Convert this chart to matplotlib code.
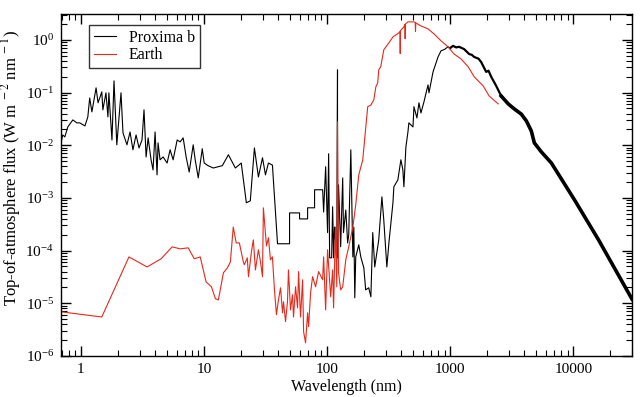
import numpy as np
import matplotlib
matplotlib.use("Agg")
import matplotlib.pyplot as plt
from matplotlib.ticker import LogLocator, NullFormatter, FuncFormatter

plt.rcParams['font.family'] = ['Liberation Serif', 'DejaVu Serif']
plt.rcParams['mathtext.fontset'] = 'stix'

# ---- data (wavelength in nm, flux in W m^-2 nm^-1) ----
proxima_wl = [0.69, 0.713, 0.741, 0.784, 0.861, 0.928, 0.98, 1.08, 1.14, 1.18, 1.23, 1.33, 1.38,
              1.48, 1.51, 1.60, 1.66, 1.69, 1.79, 1.86, 1.96, 2.12, 2.20, 2.37, 2.51, 2.65, 2.81,
              2.97, 3.14, 3.26, 3.39, 3.52, 3.72, 3.86, 4.01, 4.16, 4.24, 4.40, 4.66, 5.02, 5.31,
              5.62, 6.06, 6.41, 6.78, 7.17, 7.59, 8.18, 8.49, 8.99, 9.69, 10.05, 10.8, 11.9, 14.1,
              15.8, 18.0, 20.1, 22.1, 23.8, 25.7, 27.7, 29.9, 31.6, 33.4, 36.0, 39.6, 49.6, 49.6,
              59.8, 59.8, 69.5, 69.5, 79.2, 79.2, 92.1, 93.8, 97.4, 101, 103, 105, 109, 111, 113,
              115, 120, 121.6, 121.7, 124, 129, 134, 136, 142, 147, 150, 156, 162, 165, 168, 171,
              181, 188, 199, 206, 218, 227, 235, 244, 263, 279, 289, 306, 318, 343, 349, 376, 398,
              413, 421, 437, 454, 462, 499, 508, 537, 558, 579, 613, 661, 673, 726, 797, 843, 900,
              961, 1000, 1056, 1120, 1181, 1297, 1425, 1500, 1566, 1700, 1786, 1962, 2050, 2154,
              2366, 2598, 2964, 3318, 3785, 4158, 4563, 4828, 5500, 6643, 10230, 16050, 30000]
proxima_flux = [1.11e-2, 1.57e-2, 1.44e-2, 2.23e-2, 3.03e-2, 2.66e-2, 2.66e-2, 2.33e-2, 3.46e-2,
                7.9e-2, 4.3e-2, 0.123, 6.4e-2, 0.103, 4.7e-2, 9.9e-2, 3.46e-2, 9.9e-2, 1.26e-2,
                0.167, 1.02e-2, 9.9e-2, 1.72e-2, 1.02e-2, 1.79e-2, 8.2e-3, 1.57e-2, 8.9e-3, 1.26e-2,
                4.7e-2, 6.0e-3, 1.38e-2, 5.3e-3, 3.4e-3, 1.79e-2, 2.74e-3, 1.11e-2, 5.3e-3, 6.0e-3,
                4.6e-3, 8.2e-3, 5.3e-3, 1.26e-2, 1.16e-2, 1.38e-2, 6.0e-3, 3.1e-3, 1.02e-2, 5.3e-3,
                2.4e-3, 8.6e-3, 4.6e-3, 4.1e-3, 3.7e-3, 4.1e-3, 6.6e-3, 3.7e-3, 4.6e-3, 8.1e-4,
                8.8e-4, 8.9e-3, 2.5e-3, 5.8e-3, 2.74e-3, 4.6e-3, 4.2e-3, 1.35e-4, 1.35e-4, 5.2e-4,
                5.2e-4, 4.0e-4, 4.0e-4, 6.5e-4, 6.5e-4, 1.43e-3, 1.43e-3, 5.4e-4, 3.9e-3, 2.2e-4,
                6.9e-3, 7.3e-5, 7.3e-5, 6.8e-4, 7.3e-5, 2.8e-4, 7.3e-5, 0.27, 7.3e-5, 1.77e-3,
                1.18e-4, 2.4e-3, 2.2e-4, 5.9e-4, 1.4e-4, 2.0e-4, 8.2e-3, 7.6e-5, 2.8e-4, 1.27e-5,
                7.6e-5, 1.29e-4, 7.6e-5, 4.7e-5, 1.8e-5, 1.97e-5, 1.33e-5, 2.2e-4, 4.9e-5, 1.6e-4,
                1.05e-3, 3.8e-4, 4.9e-5, 1.4e-4, 8.1e-4, 1.63e-3, 2.2e-3, 5.3e-3, 3.4e-3, 1.63e-3,
                9.3e-3, 1.79e-2, 2.66e-2, 2.23e-2, 5.4e-2, 3.3e-2, 6.4e-2, 4.1e-2, 6.7e-2, 0.14,
                9.9e-2, 0.247, 0.475, 0.62, 0.66, 0.74, 0.70, 0.77, 0.72, 0.74, 0.67, 0.54, 0.52,
                0.475, 0.44, 0.38, 0.247, 0.26, 0.20, 0.134, 8.6e-2, 6.1e-2, 4.9e-2, 3.9e-2,
                2.9e-2, 1.87e-2, 1.11e-2, 7.5e-3, 4.6e-3, 9.2e-4, 1.6e-4, 1.2e-5]

earth_wl = [0.69, 1.48, 2.46, 3.45, 4.49, 5.52, 6.41, 7.45, 8.34, 9.33, 10.4, 11.5, 12.4, 13.1,
            14.4, 15.5, 16.4, 17.3, 18.3, 19.4, 20.9, 21.3, 22.5, 23.0, 24.3, 25.2, 26.2, 27.7,
            28.8, 29.9, 30.4, 32.2, 33.4, 34.7, 36.0, 37.4, 38.8, 40.3, 41.9, 43.5, 44.3, 46.0,
            47.7, 48.6, 50.5, 52.4, 53.4, 55.5, 57.6, 58.7, 60.9, 63.3, 64.5, 66.9, 69.5, 70.8,
            73.5, 76.3, 80.7, 85.4, 92.1, 93.8, 97.4, 101, 107, 111, 113, 117, 120, 121.6, 124,
            129, 134, 142, 150, 162, 171, 181, 195, 206, 214, 227, 240, 249, 258, 263, 273, 289,
            318, 343, 383, 391, 393, 395, 421, 429, 431, 433, 454, 508, 520, 523, 526, 579,
            661, 739, 843, 961, 1076, 1226, 1399, 1566, 1854, 2075, 2457]
earth_flux = [6.9e-6, 5.5e-6, 7.6e-5, 4.9e-5, 7.0e-5, 1.18e-4, 1.08e-4, 1.13e-4, 7.0e-5, 7.6e-5,
              2.56e-5, 2.06e-5, 1.22e-5, 1.16e-5, 3.8e-5, 4.7e-5, 6.1e-5, 2.8e-4, 1.4e-4, 1.4e-4,
              6.1e-5, 5.4e-5, 7.3e-5, 3.2e-5, 9.5e-5, 1.6e-4, 4.3e-5, 1.04e-4, 6.1e-5, 3.2e-5,
              6.5e-4, 1.23e-4, 1.75e-4, 6.7e-5, 7.6e-5, 1.8e-5, 6.1e-6, 1.16e-5, 1.97e-5, 6.6e-6,
              1.07e-5, 4.5e-6, 1.07e-5, 4.3e-5, 7.5e-6, 1.45e-5, 5.5e-6, 2.06e-5, 8.2e-6, 4.0e-5,
              5.5e-6, 2.8e-5, 2.9e-6, 1.78e-6, 6.6e-6, 3.6e-6, 1.58e-5, 3.2e-5, 2.06e-5, 4.0e-5,
              2.8e-5, 7.6e-5, 7.5e-6, 1.04e-4, 1.33e-5, 4.3e-5, 8.2e-6, 2.8e-4, 2.06e-5, 2.8e-2,
              3.8e-5, 1.8e-5, 2.06e-5, 6.7e-5, 1.18e-4, 2.8e-4, 7.4e-4, 2.74e-3, 5.3e-3, 2.1e-2,
              5.4e-2, 5.8e-2, 7.3e-2, 0.128, 0.153, 0.27, 0.31, 0.65, 0.88, 1.14, 1.36, 1.45,
              0.55, 1.50, 1.77, 1.95, 1.05, 2.0, 2.20, 2.20, 2.15, 1.45, 2.10, 1.84, 1.62, 1.30,
              0.96, 0.74, 0.54, 0.435, 0.31, 0.20, 0.134, 8.6e-2, 6.1e-2]

series_labels = ['Proxima b', 'Earth']
x_tick_values = [1, 10, 100, 1000, 10000]

# ---- figure ----
fig = plt.figure(figsize=(6.4, 3.97), dpi=100)
ax = fig.add_axes([0.0953, 0.1033, 0.8922, 0.8614])

pwl = np.array(proxima_wl)
pfx = np.array(proxima_flux)
thin = pwl <= 1000
mid = (pwl >= 1000) & (pwl <= 2598)
thick = pwl >= 2598
ax.plot(pwl[thin], pfx[thin], color='black', lw=0.8, label=series_labels[0])
ax.plot(pwl[mid], pfx[mid], color='black', lw=1.6)
ax.plot(pwl[thick], pfx[thick], color='black', lw=2.6)
ax.plot(earth_wl, earth_flux, color='#e5291b', lw=0.8, label=series_labels[1])

ax.set_xscale('log')
ax.set_yscale('log')
ax.set_xlim(0.69, 30000)
ax.set_ylim(1e-6, 3.1)

ax.set_xticks(x_tick_values)
ax.xaxis.set_major_formatter(FuncFormatter(lambda v, _: f'{v:g}'))
ax.xaxis.set_minor_locator(LogLocator(base=10, subs=np.arange(2, 10), numticks=20))
ax.xaxis.set_minor_formatter(NullFormatter())
ax.yaxis.set_major_locator(LogLocator(base=10, numticks=20))
ax.yaxis.set_minor_locator(LogLocator(base=10, subs=np.arange(2, 10), numticks=20))
ax.yaxis.set_minor_formatter(NullFormatter())

ax.tick_params(which='both', direction='in', top=True, right=True, labelsize=11, colors='black')
ax.tick_params(which='major', length=7, width=1, pad=5)
ax.tick_params(which='minor', length=4, width=0.8)
for s in ax.spines.values():
    s.set_linewidth(1.0)

ax.set_xlabel('Wavelength (nm)', fontsize=11.5, labelpad=2)
ax.set_ylabel(r'Top-of-atmosphere flux (W m$^{\ -2}$ nm$^{\ -1}$)', fontsize=12)
ax.yaxis.set_label_coords(-0.066, 0.55)

leg = ax.legend(loc='upper left', bbox_to_anchor=(0.049, 0.968), borderaxespad=0,
                fontsize=11.5, frameon=True, fancybox=False, edgecolor='black',
                handlelength=1.4, handletextpad=0.8, labelspacing=0.1, borderpad=0.3)
leg.get_frame().set_linewidth(1.0)
for h in leg.get_lines():
    h.set_linewidth(0.8)

fig.savefig('out.png', dpi=100)
